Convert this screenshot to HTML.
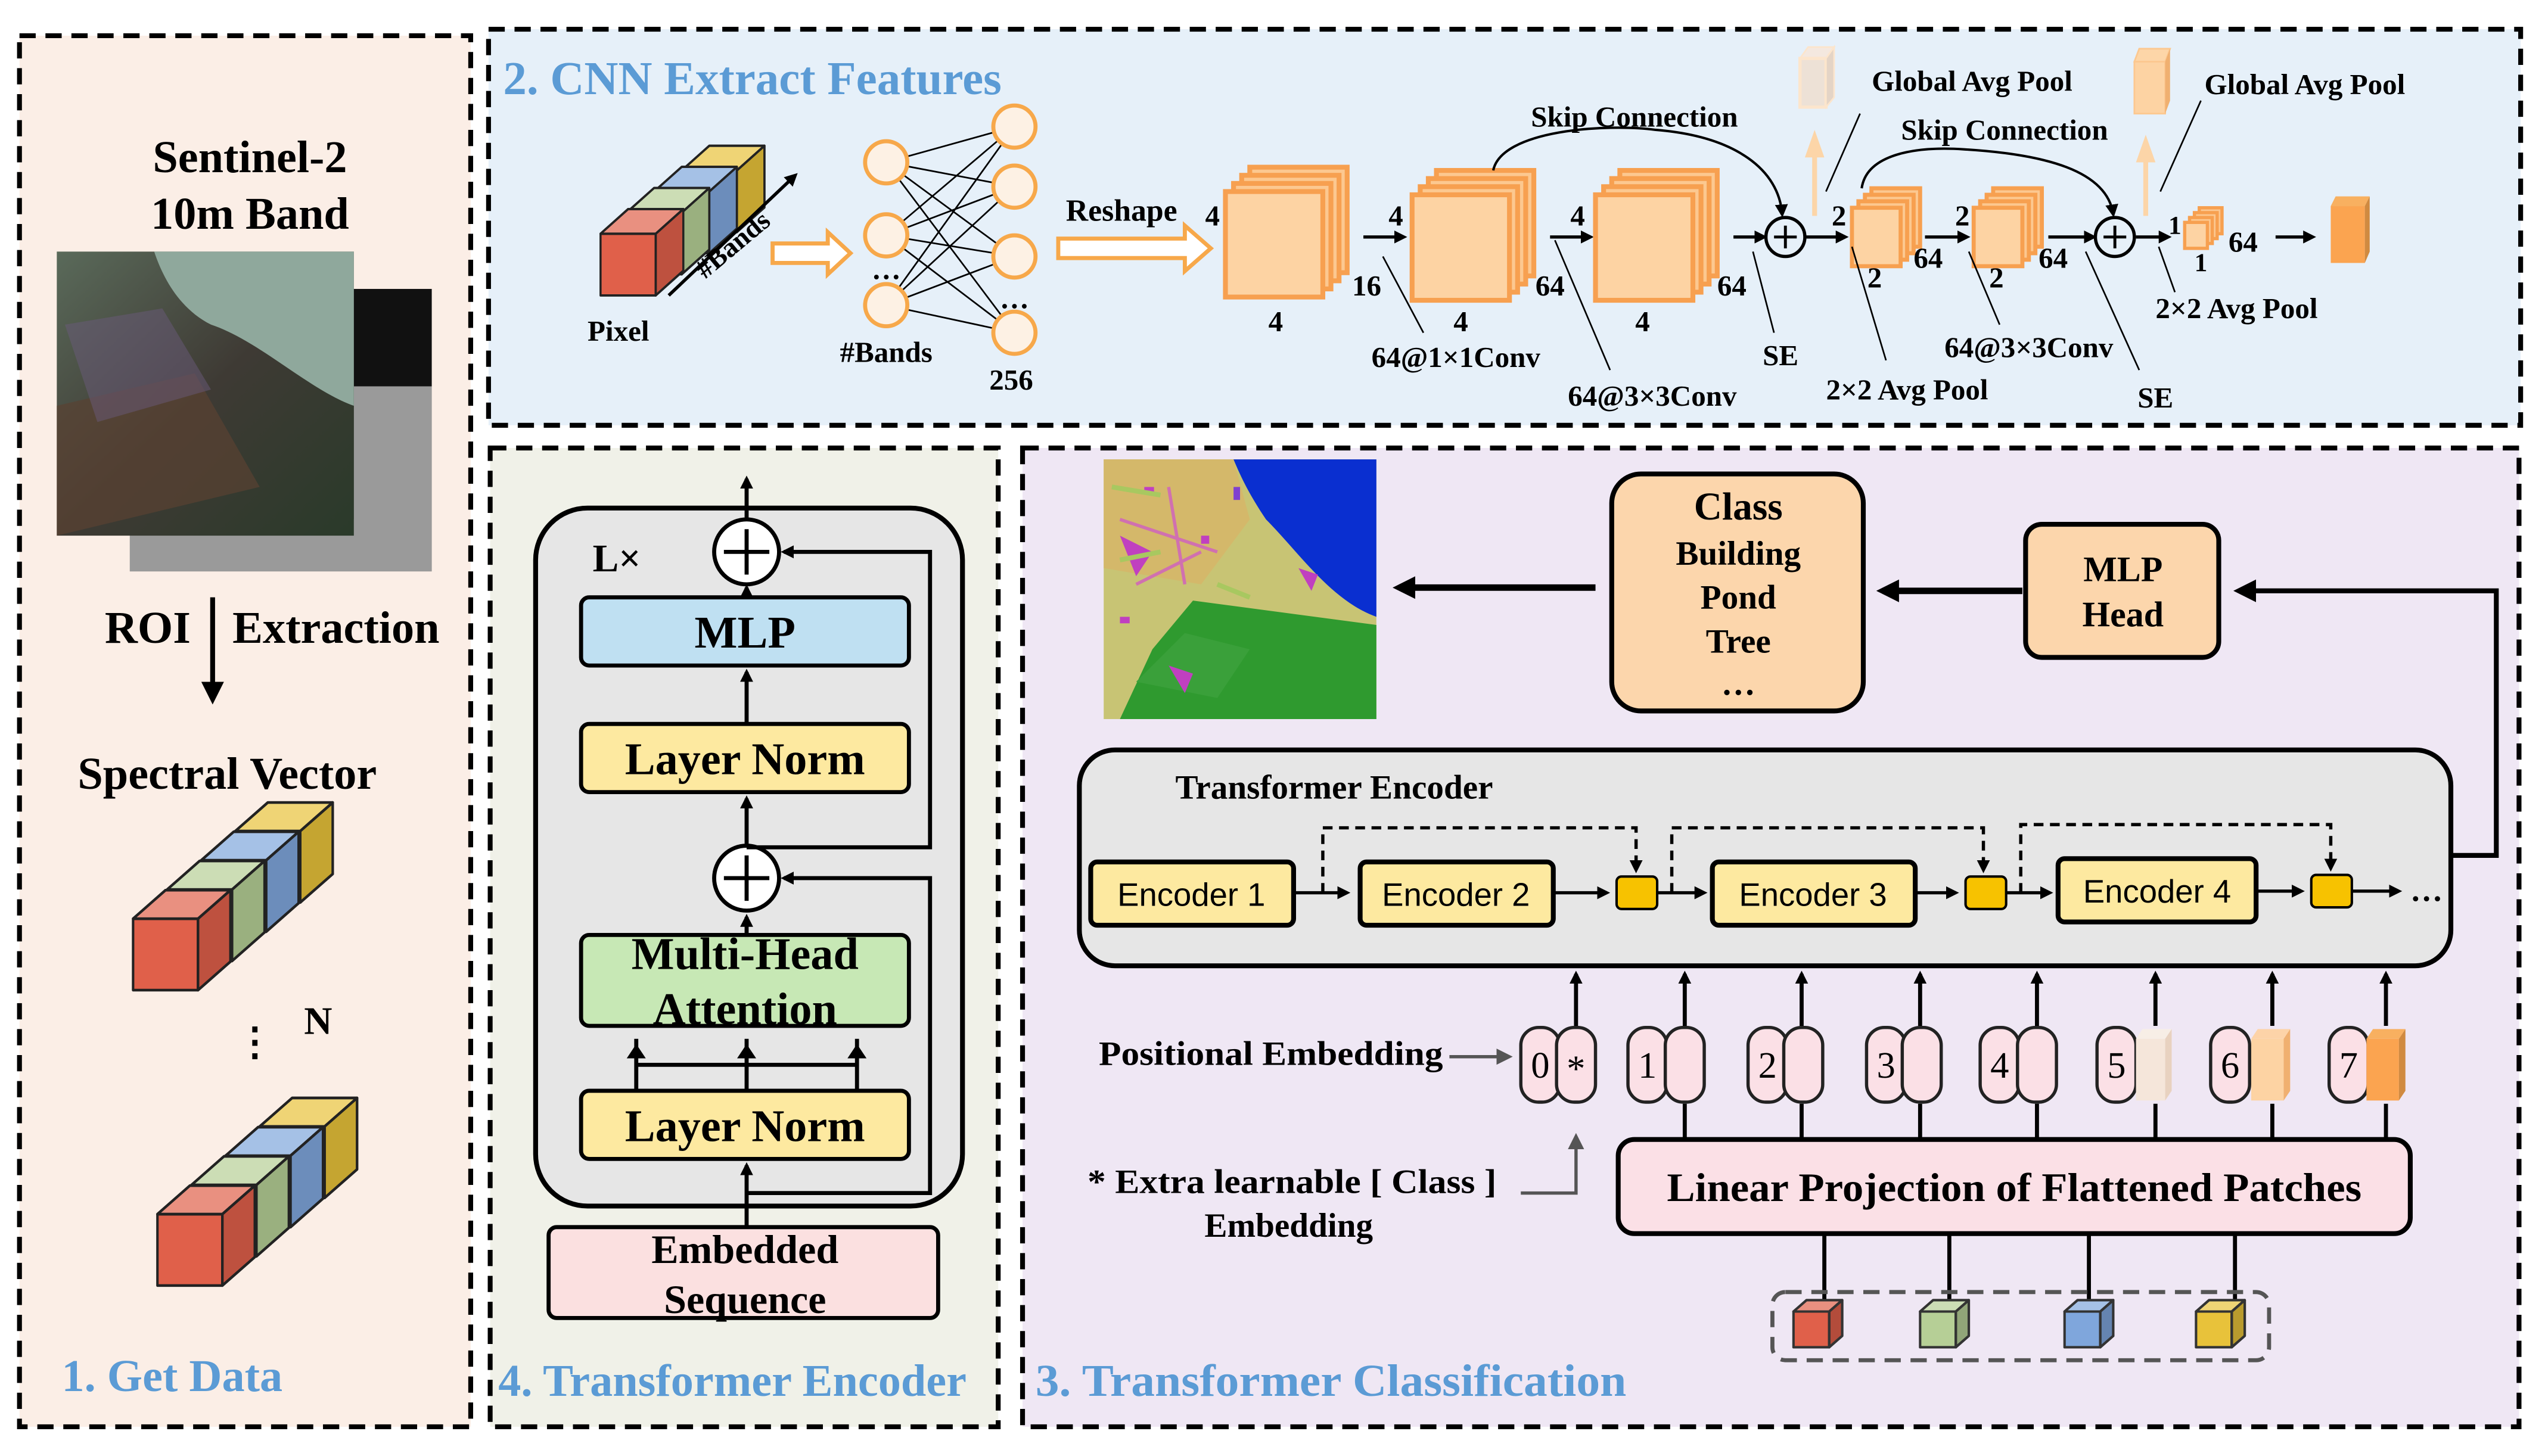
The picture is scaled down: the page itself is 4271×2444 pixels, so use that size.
<!DOCTYPE html>
<html><head><meta charset="utf-8"><style>
html,body{margin:0;padding:0;background:#fff;}
svg{display:block;}
text{font-family:"Liberation Serif",serif;font-weight:bold;fill:#000;}
</style></head><body>
<svg width="4271" height="2444" viewBox="0 0 1568 897" preserveAspectRatio="none" xmlns="http://www.w3.org/2000/svg">
<defs>
<marker id="ah" markerWidth="8" markerHeight="8" refX="6" refY="4" orient="auto" markerUnits="userSpaceOnUse"><path d="M0,0 L8,4 L0,8 z" fill="#000"/></marker>
<marker id="ahb" markerWidth="14" markerHeight="14" refX="10" refY="7" orient="auto" markerUnits="userSpaceOnUse"><path d="M0,0 L14,7 L0,14 z" fill="#000"/></marker>
<marker id="ahg" markerWidth="10" markerHeight="10" refX="8" refY="5" orient="auto" markerUnits="userSpaceOnUse"><path d="M0,0 L10,5 L0,10 z" fill="#555"/></marker>
<g id="cube" stroke="#222" stroke-width="1.5" stroke-linejoin="round">
<rect x="0" y="0" width="40" height="40" fill="currentColor"/>
<polygon points="0,0 20,-16 60,-16 40,0" fill="currentColor"/>
<polygon points="0,0 20,-16 60,-16 40,0" fill="#fff" fill-opacity="0.3"/>
<polygon points="40,0 60,-16 60,24 40,40" fill="currentColor"/>
<polygon points="40,0 60,-16 60,24 40,40" fill="#000" fill-opacity="0.15"/>
</g>
<g id="sc" stroke="#333" stroke-width="1.5" stroke-linejoin="round">
<rect x="0" y="0" width="22" height="22" fill="currentColor"/>
<polygon points="0,0 8,-7 30,-7 22,0" fill="currentColor"/>
<polygon points="0,0 8,-7 30,-7 22,0" fill="#fff" fill-opacity="0.3"/>
<polygon points="22,0 30,-7 30,15 22,22" fill="currentColor"/>
<polygon points="22,0 30,-7 30,15 22,22" fill="#000" fill-opacity="0.2"/>
</g>
<g id="fm">
<rect x="15" y="-15" width="60" height="65" fill="#fcc890" stroke="#f7a050" stroke-width="3"/>
<rect x="10" y="-10" width="60" height="65" fill="#fcc890" stroke="#f7a050" stroke-width="3"/>
<rect x="5" y="-5" width="60" height="65" fill="#fcc890" stroke="#f7a050" stroke-width="3"/>
<rect x="0" y="0" width="60" height="65" fill="#fdd3a3" stroke="#f7a050" stroke-width="3"/>
</g>
<g id="fs">
<rect x="12" y="-12" width="30" height="36" fill="#fcc890" stroke="#f7a050" stroke-width="2.5"/>
<rect x="8" y="-8" width="30" height="36" fill="#fcc890" stroke="#f7a050" stroke-width="2.5"/>
<rect x="4" y="-4" width="30" height="36" fill="#fcc890" stroke="#f7a050" stroke-width="2.5"/>
<rect x="0" y="0" width="30" height="36" fill="#fdd3a3" stroke="#f7a050" stroke-width="2.5"/>
</g>
<g id="ft">
<rect x="9" y="-9" width="14" height="16" fill="#fcc890" stroke="#f7a050" stroke-width="2"/>
<rect x="6" y="-6" width="14" height="16" fill="#fcc890" stroke="#f7a050" stroke-width="2"/>
<rect x="3" y="-3" width="14" height="16" fill="#fcc890" stroke="#f7a050" stroke-width="2"/>
<rect x="0" y="0" width="14" height="16" fill="#fdd3a3" stroke="#f7a050" stroke-width="2"/>
</g>
<linearGradient id="sat" x1="0" y1="0" x2="1" y2="1"><stop offset="0" stop-color="#5a6a5a"/><stop offset="0.5" stop-color="#3e3a34"/><stop offset="1" stop-color="#2a3a2a"/></linearGradient>
<g id="pill"><rect x="0" y="0" width="24" height="46" rx="11" fill="#fbe0e6" stroke="#222" stroke-width="2"/></g>
</defs>

<!-- panels -->
<rect x="12" y="22" width="278" height="857" fill="#fbeee6" stroke="#000" stroke-width="3" stroke-dasharray="10,6"/>
<rect x="301" y="18" width="1252" height="244" fill="#e6f0f9" stroke="#000" stroke-width="3" stroke-dasharray="10,6"/>
<rect x="302" y="276" width="313" height="603" fill="#f0f1e8" stroke="#000" stroke-width="3" stroke-dasharray="10,6"/>
<rect x="630" y="276" width="922" height="603" fill="#efe7f4" stroke="#000" stroke-width="3" stroke-dasharray="10,6"/>

<!-- panel 1 -->
<text x="154" y="106" font-size="28" text-anchor="middle">Sentinel-2</text>
<text x="154" y="141" font-size="28" text-anchor="middle">10m Band</text>
<rect x="80" y="178" width="186" height="174" fill="#555"/>
<rect x="218" y="178" width="48" height="60" fill="#111"/>
<path d="M218,238 L266,238 L266,352 L80,352 L80,320 L218,320z" fill="#9a9a9a"/>
<rect x="35" y="155" width="183" height="175" fill="url(#sat)"/>
<path d="M95,155 L218,155 L218,250 C190,240 160,210 130,200 C110,190 100,170 95,155z" fill="#8fa89c"/>
<path d="M35,250 L120,230 L160,300 L35,330z" fill="#5a4232" opacity="0.7"/>
<path d="M40,200 L100,190 L130,240 L60,260z" fill="#6a5a7a" opacity="0.5"/>
<text x="91" y="396" font-size="28" text-anchor="middle">ROI</text>
<text x="207" y="396" font-size="28" text-anchor="middle">Extraction</text>
<line x1="131" y1="368" x2="131" y2="430" stroke="#000" stroke-width="3" marker-end="url(#ahb)"/>
<text x="140" y="486" font-size="28" text-anchor="middle">Spectral Vector</text>
<use href="#cube" color="#e8c23a" transform="translate(145,512) scale(1,1.1)"/>
<use href="#cube" color="#7fa6dc" transform="translate(124,530) scale(1,1.1)"/>
<use href="#cube" color="#b6cf96" transform="translate(103,548) scale(1,1.1)"/>
<use href="#cube" color="#e0604a" transform="translate(82,566) scale(1,1.1)"/>
<text x="157" y="650" font-size="24" text-anchor="middle">⋮</text>
<text x="196" y="637" font-size="24" text-anchor="middle">N</text>
<use href="#cube" color="#e8c23a" transform="translate(160,694) scale(1,1.1)"/>
<use href="#cube" color="#7fa6dc" transform="translate(139,712) scale(1,1.1)"/>
<use href="#cube" color="#b6cf96" transform="translate(118,730) scale(1,1.1)"/>
<use href="#cube" color="#e0604a" transform="translate(97,748) scale(1,1.1)"/>
<text x="38" y="857" font-size="28" style="fill:#5b9bd5">1. Get Data</text>

<!-- panel 2 -->
<text x="310" y="58" font-size="29" style="fill:#5b9bd5">2. CNN Extract Features</text>
<use href="#cube" color="#e8c23a" transform="translate(420,105) scale(0.85,0.95)"/>
<use href="#cube" color="#7fa6dc" transform="translate(403,118) scale(0.85,0.95)"/>
<use href="#cube" color="#b6cf96" transform="translate(386,131) scale(0.85,0.95)"/>
<use href="#cube" color="#e0604a" transform="translate(370,144) scale(0.85,0.95)"/>
<line x1="412" y1="182" x2="490" y2="108" stroke="#000" stroke-width="2" marker-end="url(#ah)"/>
<text x="455" y="155" font-size="17" transform="rotate(-40 455 155)" text-anchor="middle">#Bands</text>
<text x="381" y="210" font-size="18" text-anchor="middle">Pixel</text>
<path d="M476,150 L510,150 L510,143 L524,156 L510,169 L510,162 L476,162z" fill="#fff" stroke="#f7a84a" stroke-width="2.5"/>
<path stroke="#000" stroke-width="1" d="M546,100 L625,78 M546,100 L625,115 M546,100 L625,158 M546,100 L625,205 M546,145 L625,78 M546,145 L625,115 M546,145 L625,158 M546,145 L625,205 M546,188 L625,78 M546,188 L625,115 M546,188 L625,158 M546,188 L625,205"/>
<g fill="#fdf1e4" stroke="#f7a84a" stroke-width="2.5">
<circle cx="546" cy="100" r="13"/><circle cx="546" cy="145" r="13"/><circle cx="546" cy="188" r="13"/>
<circle cx="625" cy="78" r="13"/><circle cx="625" cy="115" r="13"/><circle cx="625" cy="158" r="13"/><circle cx="625" cy="205" r="13"/>
</g>
<text x="546" y="172" font-size="18" text-anchor="middle">…</text>
<text x="625" y="190" font-size="18" text-anchor="middle">…</text>
<text x="546" y="223" font-size="18" text-anchor="middle">#Bands</text>
<text x="623" y="240" font-size="18" text-anchor="middle">256</text>
<text x="691" y="136" font-size="19" text-anchor="middle">Reshape</text>
<path d="M652,147 L730,147 L730,139 L746,153 L730,167 L730,159 L652,159z" fill="#fff" stroke="#f7a84a" stroke-width="2.5"/>
<use href="#fm" transform="translate(755,118)"/>
<g font-size="18" text-anchor="middle">
<text x="747" y="139">4</text>
<text x="786" y="204">4</text>
<text x="842" y="182">16</text>
<text x="860" y="139">4</text>
<text x="900" y="204">4</text>
<text x="955" y="182">64</text>
<text x="972" y="139">4</text>
<text x="1012" y="204">4</text>
<text x="1067" y="182">64</text>
</g>
<line x1="840" y1="146" x2="865" y2="146" stroke="#000" stroke-width="2" marker-end="url(#ah)"/>
<use href="#fm" transform="translate(870,120)"/>
<line x1="955" y1="146" x2="980" y2="146" stroke="#000" stroke-width="2" marker-end="url(#ah)"/>
<use href="#fm" transform="translate(983,120)"/>
<line x1="1068" y1="146" x2="1087" y2="146" stroke="#000" stroke-width="2" marker-end="url(#ah)"/>
<circle cx="1100" cy="146" r="12" fill="none" stroke="#000" stroke-width="2"/>
<path d="M1093,146 H1107 M1100,139 V153" stroke="#000" stroke-width="1.8"/>
<path d="M920,105 C925,80 990,76 1020,80 C1070,84 1096,105 1098,132" fill="none" stroke="#000" stroke-width="1.5" marker-end="url(#ah)"/>
<text x="1007" y="78" font-size="18" text-anchor="middle">Skip Connection</text>
<line x1="852" y1="158" x2="877" y2="205" stroke="#000" stroke-width="1"/>
<text x="897" y="226" font-size="18" text-anchor="middle">64@1×1Conv</text>
<line x1="958" y1="148" x2="992" y2="228" stroke="#000" stroke-width="1"/>
<text x="1018" y="250" font-size="18" text-anchor="middle">64@3×3Conv</text>
<line x1="1080" y1="155" x2="1093" y2="205" stroke="#000" stroke-width="1"/>
<text x="1097" y="225" font-size="18" text-anchor="middle">SE</text>
<line x1="1112" y1="146" x2="1137" y2="146" stroke="#000" stroke-width="2" marker-end="url(#ah)"/>
<!-- GAP 1 -->
<line x1="1118" y1="133" x2="1118" y2="95" stroke="#fcd5a8" stroke-width="3"/>
<polygon points="1112,97 1118,80 1124,97" fill="#fcd5a8"/>
<polygon points="1109,36 1114,29 1130,29 1125,36" fill="#f4e8df" stroke="#fce5cc"/>
<rect x="1109" y="36" width="16" height="30" fill="#ede1d6" stroke="#fce5cc" stroke-width="2"/>
<polygon points="1125,36 1130,29 1130,60 1125,66" fill="#e4d4c6" stroke="#fce5cc"/>
<line x1="1125" y1="118" x2="1146" y2="70" stroke="#000" stroke-width="1"/>
<text x="1215" y="56" font-size="18" text-anchor="middle">Global Avg Pool</text>
<text x="1235" y="86" font-size="18" text-anchor="middle">Skip Connection</text>
<use href="#fs" transform="translate(1141,128)"/>
<g font-size="18" text-anchor="middle">
<text x="1133" y="139">2</text>
<text x="1155" y="177">2</text>
<text x="1188" y="165">64</text>
<text x="1209" y="139">2</text>
<text x="1230" y="177">2</text>
<text x="1265" y="165">64</text>
</g>
<line x1="1141" y1="152" x2="1162" y2="222" stroke="#000" stroke-width="1"/>
<text x="1175" y="246" font-size="18" text-anchor="middle">2×2 Avg Pool</text>
<line x1="1186" y1="146" x2="1212" y2="146" stroke="#000" stroke-width="2" marker-end="url(#ah)"/>
<use href="#fs" transform="translate(1216,128)"/>
<line x1="1213" y1="155" x2="1232" y2="200" stroke="#000" stroke-width="1"/>
<text x="1250" y="220" font-size="18" text-anchor="middle">64@3×3Conv</text>
<path d="M1147,116 C1150,95 1180,90 1210,92 C1260,95 1298,105 1302,132" fill="none" stroke="#000" stroke-width="1.5" marker-end="url(#ah)"/>
<line x1="1262" y1="146" x2="1290" y2="146" stroke="#000" stroke-width="2" marker-end="url(#ah)"/>
<circle cx="1303" cy="146" r="12" fill="none" stroke="#000" stroke-width="2"/>
<path d="M1296,146 H1310 M1303,139 V153" stroke="#000" stroke-width="1.8"/>
<line x1="1285" y1="155" x2="1318" y2="228" stroke="#000" stroke-width="1"/>
<text x="1328" y="251" font-size="18" text-anchor="middle">SE</text>
<!-- GAP 2 -->
<line x1="1322" y1="133" x2="1322" y2="98" stroke="#fcd5a8" stroke-width="3"/>
<polygon points="1316,100 1322,83 1328,100" fill="#fcd5a8"/>
<polygon points="1315,38 1318,30 1337,30 1334,38" fill="#fdd6a8" stroke="#fcc890"/>
<rect x="1315" y="38" width="19" height="32" fill="#fdd3a3" stroke="#fcc890" stroke-width="1"/>
<polygon points="1334,38 1337,30 1337,62 1334,70" fill="#f0b070"/>
<line x1="1331" y1="118" x2="1356" y2="62" stroke="#000" stroke-width="1"/>
<text x="1420" y="58" font-size="18" text-anchor="middle">Global Avg Pool</text>
<line x1="1316" y1="146" x2="1336" y2="146" stroke="#000" stroke-width="2" marker-end="url(#ah)"/>
<use href="#ft" transform="translate(1346,137)"/>
<text x="1340" y="144" font-size="16" text-anchor="middle">1</text>
<text x="1356" y="167" font-size="16" text-anchor="middle">1</text>
<text x="1382" y="155" font-size="18" text-anchor="middle">64</text>
<line x1="1330" y1="152" x2="1340" y2="180" stroke="#000" stroke-width="1"/>
<text x="1378" y="196" font-size="18" text-anchor="middle">2×2 Avg Pool</text>
<line x1="1402" y1="146" x2="1425" y2="146" stroke="#000" stroke-width="2" marker-end="url(#ah)"/>
<polygon points="1436,127 1439,121 1460,121 1457,127" fill="#f8b060"/>
<rect x="1436" y="127" width="21" height="35" fill="#fba450"/>
<polygon points="1457,127 1460,121 1460,155 1457,162" fill="#d08a40"/>

<!-- panel 4 -->
<rect x="330" y="313" width="263" height="430" rx="32" fill="#e6e6e6" stroke="#000" stroke-width="3"/>
<text x="380" y="352" font-size="24" text-anchor="middle">L×</text>
<line x1="460" y1="320" x2="460" y2="295" stroke="#000" stroke-width="2.5" marker-end="url(#ah)"/>
<circle cx="460" cy="340" r="20" fill="#fff" stroke="#000" stroke-width="2.5"/>
<path d="M446,340 H474 M460,326 V354" stroke="#000" stroke-width="2.5"/>
<rect x="358" y="368" width="202" height="42" rx="5" fill="#bfe0f2" stroke="#000" stroke-width="2.5"/>
<text x="459" y="399" font-size="28" text-anchor="middle">MLP</text>
<line x1="460" y1="368" x2="460" y2="362" stroke="#000" stroke-width="2.5" marker-end="url(#ah)"/>
<line x1="460" y1="446" x2="460" y2="414" stroke="#000" stroke-width="2.5" marker-end="url(#ah)"/>
<rect x="358" y="446" width="202" height="42" rx="5" fill="#fde9a0" stroke="#000" stroke-width="2.5"/>
<text x="459" y="477" font-size="28" text-anchor="middle">Layer Norm</text>
<line x1="460" y1="521" x2="460" y2="492" stroke="#000" stroke-width="2.5" marker-end="url(#ah)"/>
<circle cx="460" cy="541" r="20" fill="#fff" stroke="#000" stroke-width="2.5"/>
<path d="M446,541 H474 M460,527 V555" stroke="#000" stroke-width="2.5"/>
<path d="M460,522 L573,522 L573,340 L483,340" fill="none" stroke="#000" stroke-width="2.5" marker-end="url(#ah)"/>
<line x1="460" y1="576" x2="460" y2="565" stroke="#000" stroke-width="2.5" marker-end="url(#ah)"/>
<rect x="358" y="576" width="202" height="56" rx="5" fill="#c7e8b5" stroke="#000" stroke-width="2.5"/>
<text x="459" y="597" font-size="28" text-anchor="middle">Multi-Head</text>
<text x="459" y="631" font-size="28" text-anchor="middle">Attention</text>
<path d="M392,672 V656 H528 V672 M392,656 V640 M460,672 V640 M528,656 V640" fill="none" stroke="#000" stroke-width="2.5"/>
<path d="M392,645 l-4,6 h8z M460,645 l-4,6 h8z M528,645 l-4,6 h8z" fill="#000" stroke="#000" stroke-width="2"/>
<rect x="358" y="672" width="202" height="42" rx="5" fill="#fde9a0" stroke="#000" stroke-width="2.5"/>
<text x="459" y="703" font-size="28" text-anchor="middle">Layer Norm</text>
<line x1="460" y1="756" x2="460" y2="718" stroke="#000" stroke-width="2.5" marker-end="url(#ah)"/>
<path d="M460,735 L573,735 L573,541 L483,541" fill="none" stroke="#000" stroke-width="2.5" marker-end="url(#ah)"/>
<rect x="338" y="756" width="240" height="56" rx="5" fill="#fbe0e0" stroke="#000" stroke-width="2.5"/>
<text x="459" y="778" font-size="25" text-anchor="middle">Embedded</text>
<text x="459" y="809" font-size="25" text-anchor="middle">Sequence</text>
<text x="307" y="860" font-size="28" style="fill:#5b9bd5">4. Transformer Encoder</text>

<!-- panel 3 -->
<rect x="680" y="283" width="168" height="160" fill="#c8c474"/>
<path d="M680,283 L760,283 L770,320 L740,360 L680,350z" fill="#d4b86a"/>
<path d="M760,283 L848,283 L848,380 C820,370 800,340 780,320 C770,305 765,295 760,283z" fill="#0a2fd0"/>
<path d="M735,370 L848,385 L848,443 L690,443 L710,400z" fill="#2f9a2f"/>
<path d="M700,420 l30,-30 l40,10 l-20,30z" fill="#3aa03a"/>
<g fill="#c040c0">
<path d="M690,330 l20,10 l-10,15z"/><path d="M720,410 l15,5 l-5,12z"/><path d="M800,350 l12,4 l-4,10z"/>
<rect x="705" y="300" width="6" height="4"/><rect x="740" y="330" width="5" height="5"/><rect x="690" y="380" width="6" height="4"/><rect x="760" y="300" width="4" height="8" fill="#8040d0"/>
</g>
<path d="M700,360 l40,-20 M690,320 l60,20 M720,300 l10,60" stroke="#d070b0" stroke-width="2"/>
<path d="M685,300 l30,5 M690,345 l25,-5 M750,360 l20,8" stroke="#a8c860" stroke-width="3"/>
<line x1="983" y1="362" x2="862" y2="362" stroke="#000" stroke-width="4" marker-end="url(#ahb)"/>
<rect x="993" y="292" width="155" height="146" rx="18" fill="#fcd6ac" stroke="#000" stroke-width="3"/>
<text x="1071" y="320" font-size="24" text-anchor="middle">Class</text>
<text x="1071" y="348" font-size="21" text-anchor="middle">Building</text>
<text x="1071" y="375" font-size="21" text-anchor="middle">Pond</text>
<text x="1071" y="402" font-size="21" text-anchor="middle">Tree</text>
<text x="1071" y="428" font-size="21" text-anchor="middle">…</text>
<line x1="1246" y1="364" x2="1160" y2="364" stroke="#000" stroke-width="4" marker-end="url(#ahb)"/>
<rect x="1248" y="323" width="119" height="82" rx="10" fill="#fcd6ac" stroke="#000" stroke-width="3"/>
<text x="1308" y="358" font-size="22" text-anchor="middle">MLP</text>
<text x="1308" y="386" font-size="22" text-anchor="middle">Head</text>
<path d="M1510,527 H1538 V364 H1380" fill="none" stroke="#000" stroke-width="3" marker-end="url(#ahb)"/>
<rect x="665" y="462" width="845" height="133" rx="22" fill="#e6e6e6" stroke="#000" stroke-width="3"/>
<text x="822" y="492" font-size="21" text-anchor="middle">Transformer Encoder</text>
<g stroke="#000" stroke-width="3" fill="#fde9a0">
<rect x="672" y="531" width="125" height="39" rx="4"/>
<rect x="838" y="531" width="119" height="39" rx="4"/>
<rect x="1055" y="531" width="125" height="39" rx="4"/>
<rect x="1268" y="529" width="122" height="39" rx="4"/>
</g>
<g font-size="20">
<text x="734" y="558" text-anchor="middle" style="font-family:'Liberation Sans',sans-serif;font-weight:normal">Encoder 1</text>
<text x="897" y="558" text-anchor="middle" style="font-family:'Liberation Sans',sans-serif;font-weight:normal">Encoder 2</text>
<text x="1117" y="558" text-anchor="middle" style="font-family:'Liberation Sans',sans-serif;font-weight:normal">Encoder 3</text>
<text x="1329" y="556" text-anchor="middle" style="font-family:'Liberation Sans',sans-serif;font-weight:normal">Encoder 4</text>
</g>
<g stroke="#000" stroke-width="2" fill="none">
<line x1="797" y1="550" x2="830" y2="550" marker-end="url(#ah)"/>
<line x1="957" y1="550" x2="990" y2="550" marker-end="url(#ah)"/>
<line x1="1021" y1="550" x2="1050" y2="550" marker-end="url(#ah)"/>
<line x1="1180" y1="550" x2="1205" y2="550" marker-end="url(#ah)"/>
<line x1="1236" y1="550" x2="1263" y2="550" marker-end="url(#ah)"/>
<line x1="1390" y1="549" x2="1418" y2="549" marker-end="url(#ah)"/>
<line x1="1449" y1="549" x2="1478" y2="549" marker-end="url(#ah)"/>
<path d="M815,550 V510 H1008 V536" stroke-dasharray="6,4" marker-end="url(#ah)"/>
<path d="M1030,550 V510 H1222 V536" stroke-dasharray="6,4" marker-end="url(#ah)"/>
<path d="M1245,550 V508 H1436 V535" stroke-dasharray="6,4" marker-end="url(#ah)"/>
</g>
<text x="1495" y="555" font-size="20" text-anchor="middle">…</text>
<g fill="#f7c200" stroke="#000" stroke-width="1.5">
<rect x="996" y="540" width="25" height="20" rx="3"/>
<rect x="1211" y="540" width="25" height="20" rx="3"/>
<rect x="1424" y="539" width="25" height="20" rx="3"/>
</g>
<!-- tokens -->
<g stroke="#000" stroke-width="2.5">
<line x1="971" y1="632" x2="971" y2="600" marker-end="url(#ah)"/>
<line x1="1038" y1="632" x2="1038" y2="600" marker-end="url(#ah)"/>
<line x1="1110" y1="632" x2="1110" y2="600" marker-end="url(#ah)"/>
<line x1="1183" y1="632" x2="1183" y2="600" marker-end="url(#ah)"/>
<line x1="1255" y1="632" x2="1255" y2="600" marker-end="url(#ah)"/>
<line x1="1328" y1="632" x2="1328" y2="600" marker-end="url(#ah)"/>
<line x1="1400" y1="632" x2="1400" y2="600" marker-end="url(#ah)"/>
<line x1="1470" y1="632" x2="1470" y2="600" marker-end="url(#ah)"/>
<line x1="1038" y1="680" x2="1038" y2="702"/>
<line x1="1110" y1="680" x2="1110" y2="702"/>
<line x1="1183" y1="680" x2="1183" y2="702"/>
<line x1="1255" y1="680" x2="1255" y2="702"/>
<line x1="1328" y1="680" x2="1328" y2="702"/>
<line x1="1400" y1="680" x2="1400" y2="702"/>
<line x1="1470" y1="680" x2="1470" y2="702"/>
</g>
<use href="#pill" transform="translate(937,633)"/><use href="#pill" transform="translate(959,633)"/>
<use href="#pill" transform="translate(1003,633)"/><use href="#pill" transform="translate(1026,633)"/>
<use href="#pill" transform="translate(1077,633)"/><use href="#pill" transform="translate(1099,633)"/>
<use href="#pill" transform="translate(1150,633)"/><use href="#pill" transform="translate(1172,633)"/>
<use href="#pill" transform="translate(1220,633)"/><use href="#pill" transform="translate(1243,633)"/>
<use href="#pill" transform="translate(1292,633)"/>
<use href="#pill" transform="translate(1362,633)"/>
<use href="#pill" transform="translate(1435,633)"/>
<polygon points="1316,640 1320,634 1338,634 1334,640" fill="#f7eee6"/><rect x="1316" y="640" width="18" height="38" fill="#f5e6da"/><polygon points="1334,640 1338,634 1338,672 1334,678" fill="#e8d2c0"/>
<polygon points="1387,640 1391,634 1411,634 1407,640" fill="#fdd3a8"/><rect x="1387" y="640" width="20" height="38" fill="#fdd3a3"/><polygon points="1407,640 1411,634 1411,672 1407,678" fill="#f0b070"/>
<polygon points="1458,640 1462,634 1482,634 1478,640" fill="#f8b060"/><rect x="1458" y="640" width="20" height="38" fill="#fba450"/><polygon points="1478,640 1482,634 1482,672 1478,678" fill="#d08a40"/>
<g font-size="23" text-anchor="middle">
<text x="949" y="664" style="font-weight:normal">0</text><text x="971" y="666" style="font-weight:normal">*</text>
<text x="1015" y="664" style="font-weight:normal">1</text>
<text x="1089" y="664" style="font-weight:normal">2</text>
<text x="1162" y="664" style="font-weight:normal">3</text>
<text x="1232" y="664" style="font-weight:normal">4</text>
<text x="1304" y="664" style="font-weight:normal">5</text>
<text x="1374" y="664" style="font-weight:normal">6</text>
<text x="1447" y="664" style="font-weight:normal">7</text>
</g>
<text x="783" y="656" font-size="21" text-anchor="middle" textLength="212" lengthAdjust="spacingAndGlyphs">Positional Embedding</text>
<line x1="893" y1="651" x2="930" y2="651" stroke="#555" stroke-width="2" marker-end="url(#ahg)"/>
<text x="796" y="735" font-size="21" text-anchor="middle" textLength="252" lengthAdjust="spacingAndGlyphs">* Extra learnable [ Class ]</text>
<text x="794" y="762" font-size="21" text-anchor="middle">Embedding</text>
<path d="M937,735 H971 V700" fill="none" stroke="#555" stroke-width="2" marker-end="url(#ahg)"/>
<rect x="997" y="702" width="488" height="58" rx="10" fill="#fbe0e6" stroke="#000" stroke-width="3"/>
<text x="1241" y="740" font-size="25" text-anchor="middle" textLength="428" lengthAdjust="spacingAndGlyphs">Linear Projection of Flattened Patches</text>
<g stroke="#000" stroke-width="2.5">
<line x1="1124" y1="760" x2="1124" y2="803"/>
<line x1="1201" y1="760" x2="1201" y2="803"/>
<line x1="1287" y1="760" x2="1287" y2="803"/>
<line x1="1377" y1="760" x2="1377" y2="803"/>
</g>
<rect x="1092" y="796" width="306" height="42" rx="8" fill="none" stroke="#555" stroke-width="2.5" stroke-dasharray="10,6"/>
<use href="#sc" color="#e0604a" transform="translate(1105,808)"/>
<use href="#sc" color="#b6cf96" transform="translate(1183,808)"/>
<use href="#sc" color="#7fa6dc" transform="translate(1272,808)"/>
<use href="#sc" color="#e8c23a" transform="translate(1353,808)"/>
<text x="638" y="860" font-size="28" style="fill:#5b9bd5" textLength="364" lengthAdjust="spacingAndGlyphs">3. Transformer Classification</text>
</svg>
</body></html>
